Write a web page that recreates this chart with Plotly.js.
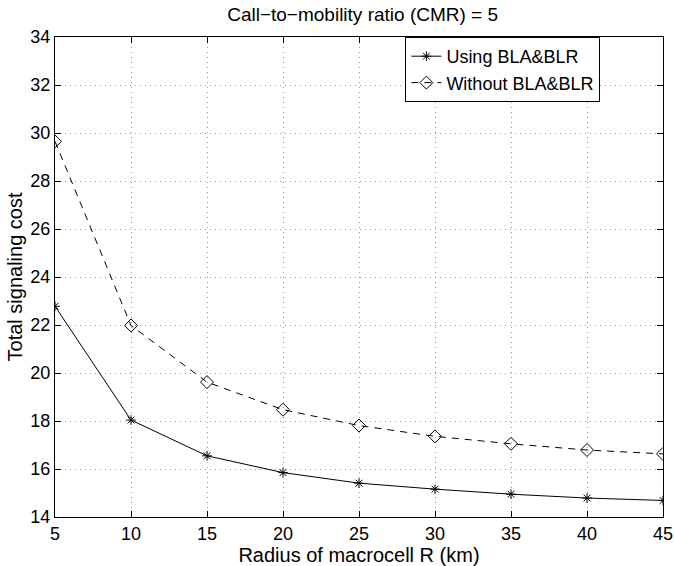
<!DOCTYPE html>
<html>
<head>
<meta charset="utf-8">
<script src="https://cdn.plot.ly/plotly-3.0.1.min.js"></script>
<style>html,body{margin:0;padding:0;background:#fff;}#chart{width:674px;height:566px;}</style>
</head>
<body>
<div id="chart"></div>
<script>
const radius = [5, 10, 15, 20, 25, 30, 35, 40, 45];
const usingBLA = [22.78, 18.04, 16.55, 15.85, 15.41, 15.16, 14.95, 14.79, 14.69];
const withoutBLA = [29.65, 21.98, 19.62, 18.47, 17.81, 17.36, 17.05, 16.79, 16.63];
const seriesNames = ["Using BLA&BLR", "Without BLA&BLR"];
const xTicks = [5, 10, 15, 20, 25, 30, 35, 40, 45];
const yTicks = [14, 16, 18, 20, 22, 24, 26, 28, 30, 32, 34];

const font = "Liberation Sans, Arial, Helvetica, sans-serif";

const traces = [
  {
    x: radius, y: usingBLA, name: seriesNames[0], type: "scatter", mode: "lines+markers",
    line: {color: "#000", width: 1},
    marker: {symbol: "asterisk-open", size: 8, color: "#000", line: {color: "#000", width: 1}}
  },
  {
    x: radius, y: withoutBLA, name: seriesNames[1], type: "scatter", mode: "lines+markers",
    line: {color: "#000", width: 1, dash: "7px,6px"},
    marker: {symbol: "diamond-open", size: 10, color: "#000", line: {color: "#000", width: 1}}
  }
];

const axisCommon = {
  showline: true, linecolor: "#000", linewidth: 1, mirror: "allticks",
  ticks: "inside", ticklen: 6, tickcolor: "#000",
  showgrid: true, gridcolor: "#999", griddash: "1px,4px", gridwidth: 1,
  zeroline: false, tickfont: {family: font, size: 18, color: "#000"}
};

const layout = {
  width: 674, height: 566,
  margin: {l: 55, r: 11, t: 37, b: 49},
  paper_bgcolor: "#fff", plot_bgcolor: "#fff",
  font: {family: font, color: "#000"},
  title: {text: "Call−to−mobility ratio (CMR) = 5", font: {family: font, size: 19, color: "#000"},
          x: 0.538, xanchor: "center", y: 0.974, yanchor: "middle"},
  xaxis: Object.assign({}, axisCommon, {
    range: [5, 45], tickvals: xTicks, ticktext: xTicks.map(String),
    title: {text: "Radius of macrocell R (km)", font: {family: font, size: 20, color: "#000"}, standoff: 2}
  }),
  yaxis: Object.assign({}, axisCommon, {
    range: [14, 34], tickvals: yTicks, ticktext: yTicks.map(String),
    title: {text: "Total signaling cost", font: {family: font, size: 20, color: "#000"}, standoff: 2}
  }),
  showlegend: true,
  legend: {
    x: 0.897, xanchor: "right", y: 1, yanchor: "top",
    bgcolor: "#fff", bordercolor: "#000", borderwidth: 1,
    font: {family: font, size: 18, color: "#000"},
    itemwidth: 30, tracegroupgap: 0
  }
};

Plotly.newPlot("chart", traces, layout, {displayModeBar: false, staticPlot: true});
</script>
</body>
</html>
